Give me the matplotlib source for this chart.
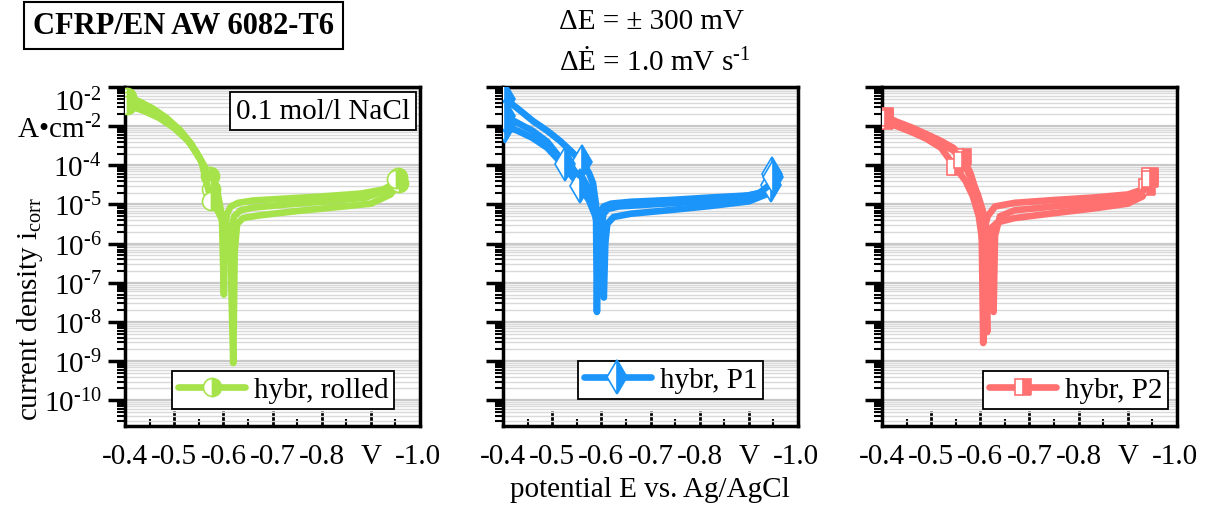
import numpy as np
import matplotlib
matplotlib.use("Agg")
import matplotlib.pyplot as plt
from matplotlib.ticker import MultipleLocator, LogLocator, NullFormatter
from matplotlib.transforms import ScaledTranslation

plt.rcParams['font.family'] = ['Liberation Serif', 'DejaVu Serif']
plt.rcParams['mathtext.fontset'] = 'custom'
plt.rcParams['mathtext.rm'] = 'Liberation Serif'
plt.rcParams['mathtext.it'] = 'Liberation Serif:italic'
plt.rcParams['mathtext.bf'] = 'Liberation Serif:bold'

# potential (V vs. Ag/AgCl) and current density (A/cm^2), three runs per sample
rolled_E = [
    [-0.404, -0.43, -0.457, -0.485, -0.512, -0.535, -0.553, -0.573, -0.589, -0.597, -0.601,
     -0.603, -0.607, -0.615, -0.63, -0.66, -0.72, -0.80, -0.88, -0.925, -0.945, -0.955],
    [-0.404, -0.43, -0.46, -0.49, -0.52, -0.545, -0.565, -0.575, -0.59, -0.605, -0.615,
     -0.62, -0.623, -0.628, -0.64, -0.67, -0.74, -0.82, -0.9, -0.94, -0.958],
    [-0.404, -0.44, -0.47, -0.5, -0.53, -0.555, -0.575, -0.59, -0.605, -0.612, -0.616,
     -0.622, -0.635, -0.66, -0.73, -0.81, -0.89, -0.935, -0.952],
]
rolled_i = [
    [5.6e-3, 4.2e-3, 2.8e-3, 1.6e-3, 7.9e-4, 3.5e-4, 1.4e-4, 5.2e-5, 1.8e-5, 5.0e-6, 5.0e-8,
     1.6e-6, 5.6e-6, 8.9e-6, 1.1e-5, 1.26e-5, 1.4e-5, 1.6e-5, 1.9e-5, 2.4e-5, 3.3e-5, 5.0e-5],
    [4.5e-3, 3.3e-3, 2.2e-3, 1.2e-3, 5.6e-4, 2.2e-4, 7.9e-5, 2.5e-5, 7.9e-6, 2.5e-6, 3.2e-7,
     8.9e-10, 6.3e-7, 3.2e-6, 4.5e-6, 5.2e-6, 6.6e-6, 8.3e-6, 1.05e-5, 1.8e-5, 3.5e-5],
    [3.5e-3, 2.4e-3, 1.6e-3, 8.9e-4, 4.0e-4, 1.26e-4, 1.26e-5, 6.3e-6, 2.5e-6, 5.0e-7, 2.5e-6,
     5.0e-6, 7.1e-6, 8.3e-6, 1.0e-5, 1.2e-5, 1.5e-5, 2.4e-5, 4.5e-5],
]
rolled_mark = [7, 7, 6]

p1_E = [
    [-0.404, -0.43, -0.461, -0.49, -0.516, -0.54, -0.561, -0.575, -0.583, -0.589, -0.591,
     -0.593, -0.597, -0.605, -0.62, -0.66, -0.74, -0.82, -0.9, -0.93, -0.94, -0.947],
    [-0.404, -0.43, -0.46, -0.49, -0.52, -0.557, -0.575, -0.588, -0.597, -0.602, -0.605,
     -0.608, -0.612, -0.625, -0.66, -0.74, -0.82, -0.9, -0.935, -0.945],
    [-0.404, -0.43, -0.46, -0.49, -0.526, -0.56, -0.578, -0.588, -0.595, -0.598, -0.6,
     -0.604, -0.612, -0.635, -0.7, -0.78, -0.86, -0.92, -0.94, -0.95],
]
p1_i = [
    [5.0e-3, 2.8e-3, 1.35e-3, 7.6e-4, 4.2e-4, 2.2e-4, 1.2e-4, 6.3e-5, 3.5e-5, 1.0e-5, 1.8e-8,
     2.5e-6, 6.3e-6, 8.9e-6, 1.05e-5, 1.17e-5, 1.3e-5, 1.5e-5, 1.7e-5, 2.1e-5, 3.2e-5, 5.9e-5],
    [1.0e-3, 7.6e-4, 5.0e-4, 2.8e-4, 1.1e-4, 2.9e-5, 1.26e-5, 5.0e-6, 1.6e-6, 3.2e-7, 4.2e-8,
     1.0e-6, 3.2e-6, 4.8e-6, 5.8e-6, 7.2e-6, 9.1e-6, 1.2e-5, 1.8e-5, 3.2e-5],
    [1.8e-3, 1.2e-3, 7.6e-4, 4.0e-4, 1.07e-4, 5.0e-5, 2.0e-5, 6.3e-6, 1.0e-6, 1.0e-7, 2.0e-6,
     5.6e-6, 7.6e-6, 8.9e-6, 1.0e-5, 1.15e-5, 1.4e-5, 1.9e-5, 3.0e-5, 5.0e-5],
]
p1_mark = [6, 5, 4]

p2_E = [
    [-0.406, -0.43, -0.46, -0.49, -0.52, -0.545, -0.565, -0.58, -0.59, -0.598, -0.603,
     -0.606, -0.609, -0.615, -0.63, -0.67, -0.75, -0.83, -0.9, -0.93, -0.94, -0.945],
    [-0.406, -0.43, -0.46, -0.49, -0.52, -0.549, -0.57, -0.585, -0.597, -0.605, -0.61,
     -0.614, -0.617, -0.622, -0.635, -0.67, -0.75, -0.83, -0.9, -0.93, -0.94],
    [-0.406, -0.43, -0.46, -0.49, -0.52, -0.545, -0.563, -0.58, -0.595, -0.606, -0.614,
     -0.62, -0.624, -0.627, -0.63, -0.64, -0.67, -0.75, -0.83, -0.9, -0.93, -0.945],
]
p2_i = [
    [1.8e-3, 1.3e-3, 9.3e-4, 6.3e-4, 4.2e-4, 2.8e-4, 1.6e-4, 6.3e-5, 2.5e-5, 7.9e-6, 1.6e-6,
     2.9e-9, 2.5e-6, 5.0e-6, 8.9e-6, 1.1e-5, 1.3e-5, 1.5e-5, 1.8e-5, 2.4e-5, 3.5e-5, 5.2e-5],
    [1.35e-3, 1.0e-3, 7.1e-4, 4.8e-4, 2.8e-4, 8.9e-5, 4.0e-5, 1.6e-5, 5.0e-6, 1.0e-6, 1.6e-7,
     5.5e-9, 1.0e-6, 2.5e-6, 3.5e-6, 4.5e-6, 6.0e-6, 7.9e-6, 1.05e-5, 1.6e-5, 2.8e-5],
    [1.6e-3, 1.1e-3, 7.9e-4, 5.4e-4, 3.5e-4, 2.4e-4, 1.4e-4, 5.0e-5, 1.8e-5, 6.3e-6, 2.0e-6,
     5.0e-7, 1.26e-7, 1.8e-8, 1.6e-6, 5.0e-6, 7.1e-6, 8.9e-6, 1.1e-5, 1.4e-5, 2.1e-5, 4.5e-5],
]
p2_mark = [6, 5, 6]

labels = ['hybr, rolled', 'hybr, P1', 'hybr, P2']
colors = ['#a6e34b', '#1c95fa', '#ff7171']
markers = ['o', 'd', 's']
msizes = [13, 17, 12]

y_ticks = [1e-2, 1e-3, 1e-4, 1e-5, 1e-6, 1e-7, 1e-8, 1e-9, 1e-10]
y_labels = ['10$^{\\text{-2}}$', 'A\u2022cm$^{\\text{-2}}$', '10$^{\\text{-4}}$',
            '10$^{\\text{-5}}$', '10$^{\\text{-6}}$', '10$^{\\text{-7}}$',
            '10$^{\\text{-8}}$', '10$^{\\text{-9}}$', '10$^{\\text{-10}}$']
x_ticks = [-0.4, -0.5, -0.6, -0.7, -0.8, -0.9, -1.0]
x_labels = ['-0.4', '-0.5', '-0.6', '-0.7', '-0.8', 'V', '-1.0']

FS = 21

fig = plt.figure(figsize=(12.06, 5.06), dpi=100)
lefts = [0.1037, 0.4171, 0.7313]
legend_pos = [(0.16, 0.05), (0.254, 0.08), (0.343, 0.05)]
all_E = [rolled_E, p1_E, p2_E]
all_i = [rolled_i, p1_i, p2_i]
all_mark = [rolled_mark, p1_mark, p2_mark]

axes = []
for k in range(3):
    ax = fig.add_axes([lefts[k], 0.1561, 0.2446, 0.670])
    axes.append(ax)
    ax.set_yscale('log')
    for j in range(3):
        E = all_E[k][j]
        cur = all_i[k][j]
        ax.plot(E, cur, color=colors[k], lw=4.8, solid_joinstyle='round',
                solid_capstyle='round', marker=markers[k], ms=msizes[k],
                markevery=[0, all_mark[k][j], len(E) - 1], fillstyle='right',
                markerfacecolor=colors[k], markerfacecoloralt='white',
                markeredgecolor=colors[k], mew=1.2,
                label=labels[k] if j == 0 else None, zorder=3)
    ax.set_xlim(-0.4, -1.0)
    ax.set_ylim(2.2e-11, 1e-2)

    ax.set_yticks(y_ticks)
    ax.yaxis.set_minor_locator(LogLocator(base=10, subs=np.arange(2, 10), numticks=30))
    ax.yaxis.set_minor_formatter(NullFormatter())
    if k == 0:
        ax.set_yticklabels(y_labels)
    else:
        ax.set_yticklabels([])
    ax.set_xticks(x_ticks)
    ax.set_xticklabels(x_labels)
    ax.xaxis.set_minor_locator(MultipleLocator(0.05))

    ax.yaxis.grid(True, which='major', color='#c8c8c8', lw=1.6, zorder=0)
    ax.yaxis.grid(True, which='minor', color='#d9d9d9', lw=1.0, zorder=0)
    ax.set_axisbelow(True)

    ax.tick_params(axis='y', which='major', direction='out', length=12, width=2.5,
                   labelsize=FS, pad=5)
    ax.tick_params(axis='y', which='minor', direction='out', length=6, width=1.5)
    ax.tick_params(axis='x', which='major', direction='in', length=11, width=2,
                   labelsize=FS, pad=12)
    ax.tick_params(axis='x', which='minor', direction='in', length=5, width=1.5)
    for s in ax.spines.values():
        s.set_linewidth(2.5)

    xl = ax.get_xticklabels()
    xl[-1].set_horizontalalignment('right')
    xl[-1].set_transform(xl[-1].get_transform() + ScaledTranslation(15 / 72, 0, fig.dpi_scale_trans))

    leg = ax.legend(loc='lower left', bbox_to_anchor=legend_pos[k], fontsize=FS,
                    handlelength=2.3, handletextpad=0.3, borderpad=0.2,
                    borderaxespad=0, fancybox=False, framealpha=1, edgecolor='black')
    leg.get_frame().set_linewidth(1.3)

# shift the top label down like in the original
t0 = axes[0].get_yticklabels()[0]
t0.set_transform(t0.get_transform() + ScaledTranslation(0, -9 / 72, fig.dpi_scale_trans))

axes[0].text(0.67, 0.929, '0.1 mol/l NaCl', transform=axes[0].transAxes, fontsize=FS,
             ha='center', va='center', zorder=5,
             bbox=dict(boxstyle='square,pad=0.2', fc='white', ec='black', lw=1.3))

fig.text(0.152, 0.947, 'CFRP/EN AW 6082-T6', fontsize=22, fontweight='bold',
         ha='center', va='center',
         bbox=dict(boxstyle='square,pad=0.3', fc='white', ec='black', lw=1.5))
fig.text(0.54, 0.957, '\u0394E = \u00b1 300 mV', fontsize=FS, ha='center', va='center')
fig.text(0.543, 0.877, '\u0394\u0116 = 1.0 mV s$^{\\text{-1}}$', fontsize=FS,
         ha='center', va='center')
fig.text(0.025, 0.39, 'current density i$_{\\text{corr}}$', fontsize=FS,
         rotation=90, ha='center', va='center')
fig.text(0.539, 0.032, 'potential E vs. Ag/AgCl', fontsize=FS, ha='center', va='center')

plt.savefig('out.png', dpi=100)
